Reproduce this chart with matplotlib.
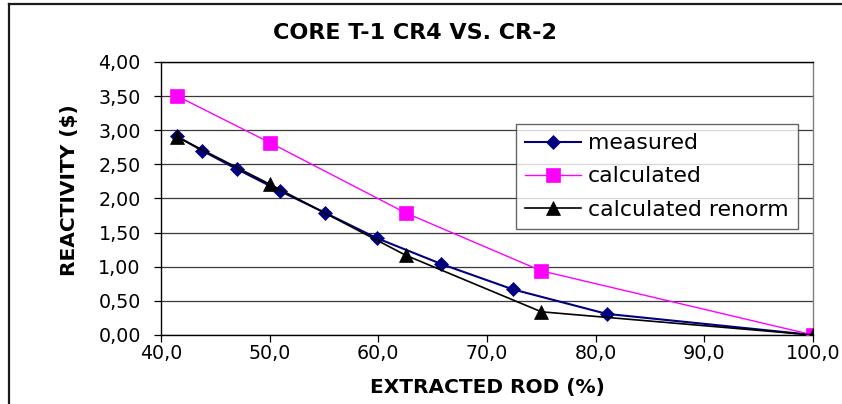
import matplotlib
matplotlib.use("Agg")
import matplotlib.pyplot as plt
from matplotlib.lines import Line2D
from matplotlib.ticker import FuncFormatter, MultipleLocator

# Rod extraction (%) and reactivity ($)
measured_x = [41.5, 43.8, 47.0, 50.95, 55.1, 59.85, 65.8, 72.35, 81.0, 100.0]
measured_y = [2.91, 2.70, 2.43, 2.11, 1.79, 1.42, 1.04, 0.67, 0.31, 0.00]

calc_x = [41.5, 50.0, 62.5, 75.0, 100.0]
calc_y = [3.50, 2.82, 1.79, 0.94, 0.00]

renorm_x = [41.5, 50.0, 62.5, 75.0, 100.0]
renorm_y = [2.90, 2.21, 1.17, 0.34, 0.00]

series_labels = ["measured", "calculated", "calculated renorm"]
title = "CORE T-1 CR4 VS. CR-2"
xlabel = "EXTRACTED ROD (%)"
ylabel = "REACTIVITY ($)"

W, H = 842, 404
fig = plt.figure(figsize=(W / 100, H / 100), dpi=100)
fig.patch.set_facecolor("white")

# plot area in pixel coordinates
left, right, top, bottom = 161, 813, 62, 335
ax = fig.add_axes([left / W, 1 - bottom / H, (right - left) / W, (bottom - top) / H])

ax.plot(measured_x, measured_y, color="#000080", lw=1.5, marker="D", ms=6.8,
        mfc="#000080", mec="#000080", mew=0.5, label=series_labels[0], zorder=3)
ax.plot(calc_x, calc_y, color="#FF00FF", lw=1.0, marker="s", ms=9.6,
        mfc="#FF00FF", mec="#FF00FF", mew=0.5, label=series_labels[1], zorder=4)
ax.plot(renorm_x, renorm_y, color="black", lw=1.2, marker="^", ms=9.5,
        mfc="black", mec="black", mew=0.5, label=series_labels[2], zorder=5)

ax.set_xlim(40, 100)
ax.set_ylim(0, 4)
ax.xaxis.set_major_locator(MultipleLocator(10))
ax.yaxis.set_major_locator(MultipleLocator(0.5))
ax.xaxis.set_major_formatter(FuncFormatter(lambda v, p: f"{v:.1f}".replace(".", ",")))
ax.yaxis.set_major_formatter(FuncFormatter(lambda v, p: f"{v:.2f}".replace(".", ",")))

ax.grid(axis="y", color="#3a3a3a", lw=0.9)
ax.set_axisbelow(True)
ax.tick_params(axis="both", direction="out", length=5, width=0.9, colors="black",
               labelsize=13.7)
ax.tick_params(axis="y", pad=9.5)
ax.tick_params(axis="x", pad=1.5)

for name in ("left", "bottom", "top"):
    ax.spines[name].set_color("black")
    ax.spines[name].set_linewidth(1.0)
ax.spines["right"].set_color("#808080")
ax.spines["right"].set_linewidth(1.0)

leg = ax.legend(loc="upper left",
                bbox_to_anchor=((516 - left) / (right - left), (bottom - 124) / (bottom - top)),
                fontsize=15.8, frameon=True, fancybox=False, shadow=False,
                handlelength=2.55, handletextpad=0.3, borderpad=0.42,
                labelspacing=0.6, borderaxespad=0.0, numpoints=1)
leg.get_frame().set_edgecolor("#404040")
leg.get_frame().set_linewidth(1.0)

fig.text(415 / W, 1 - 33 / H, title, ha="center", va="center",
         fontsize=16, fontweight="bold")
fig.text((left + right) / 2 / W, 1 - 388 / H, xlabel, ha="center", va="center",
         fontsize=14.5, fontweight="bold")
fig.text(70 / W, 1 - 190 / H, ylabel, ha="center", va="center", rotation=90,
         fontsize=14.5, fontweight="bold")

# chart frame (left and top edges)
fig.add_artist(Line2D([9 / W, 9 / W], [0, 1 - 4 / H], color="#1a1a1a", lw=1.6,
                      transform=fig.transFigure))
fig.add_artist(Line2D([9 / W, 1], [1 - 4 / H, 1 - 4 / H], color="#1a1a1a", lw=1.6,
                      transform=fig.transFigure))

fig.savefig("out.png", dpi=100)
